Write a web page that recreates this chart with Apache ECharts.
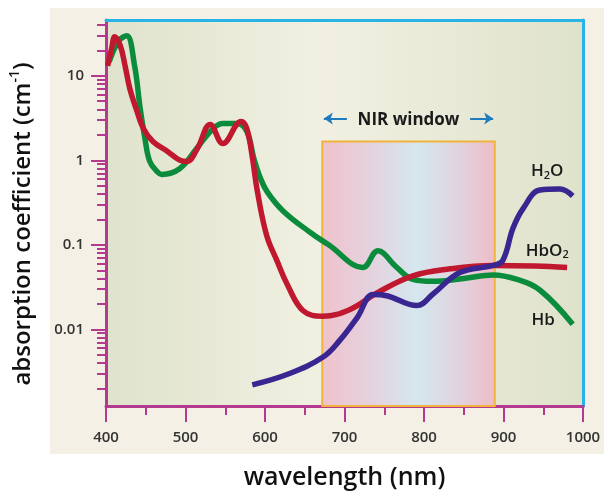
<!DOCTYPE html>
<html><head><meta charset="utf-8">
<script src="https://cdn.jsdelivr.net/npm/echarts@6/dist/echarts.min.js"></script>
<style>html,body{margin:0;padding:0;background:#fff}#c{width:604px;height:495px}</style>
</head><body><div id="c"></div>
<script>
// ---- data (wavelength nm, absorption coefficient cm^-1) ----
const hbX = [404, 416, 426, 436, 443, 449, 455, 464, 470, 493, 514, 535, 547, 565, 577, 586, 594, 603, 623, 657, 680, 723, 742, 765, 786, 811, 850, 887, 917, 946, 987];
const hbY = [14.6, 25.8, 29.6, 13, 4.1, 1.8, 0.97, 0.74, 0.68, 0.80, 1.38, 2.38, 2.72, 2.72, 2.2, 1.05, 0.62, 0.42, 0.25, 0.14, 0.1, 0.054, 0.085, 0.055, 0.039, 0.037, 0.040, 0.044, 0.039, 0.029, 0.0115];
const hbo2X = [402, 407, 411, 418, 424, 430, 439, 447, 459, 477, 493, 502, 515, 531, 547, 570, 577, 584, 590, 602, 615, 628, 648, 673, 707, 741, 786, 833, 887, 940, 980];
const hbo2Y = [13.1, 20.8, 28.8, 22.6, 13.1, 7.0, 3.8, 2.38, 1.67, 1.28, 1.0, 0.97, 1.38, 2.65, 1.58, 2.88, 2.38, 1.1, 0.45, 0.13, 0.065, 0.034, 0.0166, 0.0143, 0.0172, 0.027, 0.043, 0.052, 0.057, 0.056, 0.054];
const h2oX = [584, 631, 673, 694, 716, 736, 753, 791, 811, 845, 887, 899, 912, 925, 946, 971, 987];
const h2oY = [0.0022, 0.0030, 0.0047, 0.0074, 0.0138, 0.0258, 0.025, 0.0191, 0.026, 0.047, 0.057, 0.065, 0.158, 0.272, 0.444, 0.456, 0.377];
const xTickLabels = [400, 500, 600, 700, 800, 900, 1000];
const yTickLabels = [0.01, 0.1, 1, 10];
const nirWindow = [672, 889];
const nirTop = 1.67;
const yRange = [0.00124, 45.6];
const labelPos = { h2o: [955, 0.74], hbo2: [955, 0.085], hb: [950, 0.0128] };
const nirTextY = 3.12;

const pairs = (xs, ys) => xs.map((x, i) => [x, ys[i]]);
const minorY = [];
for (let e = -3; e <= 1; e++) for (let m = 2; m <= 9; m++) {
  const v = +(m * Math.pow(10, e)).toPrecision(3);
  if (v > yRange[0] && v < yRange[1]) minorY.push(v);
}
const MAG = '#b43a8f', CYAN = '#2ab4e6';
const FONT = '"Open Sans", "DejaVu Sans", sans-serif';

const chart = echarts.init(document.getElementById('c'), null, { renderer: 'canvas' });
const lbl = (txt) => ({
  show: true, position: 'inside', formatter: txt, color: '#1a1a1a',
  fontFamily: FONT, fontSize: 17, fontWeight: 600, lineHeight: 20,
  rich: { s: { fontSize: 11, fontWeight: 600, fontFamily: FONT, color: '#1a1a1a', lineHeight: 11, verticalAlign: 'bottom' } }
});
const mp = (pos, txt) => ({
  symbol: 'rect', symbolSize: 1, itemStyle: { color: 'rgba(0,0,0,0)' }, silent: true,
  data: [{ coord: pos, label: lbl(txt) }]
});

chart.setOption({
  animation: false,
  backgroundColor: '#ffffff',
  graphic: [{ type: 'rect', z: -10, shape: { x: 50, y: 8, width: 554, height: 446 }, style: { fill: '#f5f0e5' } }],
  grid: {
    left: 106, right: 21, top: 20, bottom: 87, show: true, borderWidth: 0,
    backgroundColor: { type: 'linear', x: 0, y: 0, x2: 1, y2: 0, colorStops: [
      { offset: 0, color: '#dfe3cc' }, { offset: 0.45, color: '#f1f0e2' }, { offset: 1, color: '#dfe2cb' }] }
  },
  xAxis: [{
    type: 'value', min: 400, max: 1000, interval: 100, position: 'bottom',
    axisLine: { show: true, lineStyle: { color: MAG, width: 3 } },
    axisTick: { show: true, length: 16, lineStyle: { color: MAG, width: 2 }, customValues: xTickLabels },
    minorTick: { show: true, splitNumber: 2, length: 9, lineStyle: { color: MAG, width: 2 } },
    splitLine: { show: false },
    axisLabel: { margin: 24, color: '#333', fontFamily: FONT, fontSize: 15, fontWeight: 600, customValues: xTickLabels,
      formatter: v => String(v) },
    name: 'wavelength (nm)', nameLocation: 'middle', nameGap: 59,
    nameTextStyle: { color: '#111', fontFamily: FONT, fontSize: 25, fontWeight: 600 }
  }, {
    type: 'value', min: 400, max: 1000, position: 'top',
    axisLine: { show: true, lineStyle: { color: CYAN, width: 3 } },
    axisTick: { show: false }, axisLabel: { show: false }, splitLine: { show: false }
  }],
  yAxis: [{
    type: 'log', min: yRange[0], max: yRange[1], position: 'left',
    axisLine: { show: true, lineStyle: { color: MAG, width: 3 } },
    axisTick: { show: true, length: 15, lineStyle: { color: MAG, width: 2 }, customValues: yTickLabels },
    splitLine: { show: false },
    axisLabel: { margin: 22, color: '#333', fontFamily: FONT, fontSize: 15, fontWeight: 600, customValues: yTickLabels,
      formatter: v => String(+(+v).toPrecision(3)) },
    name: 'absorption coefficient (cm{sup|-1})', nameLocation: 'middle', nameGap: 68, nameRotate: 90,
    nameTextStyle: { color: '#111', fontFamily: FONT, fontSize: 24, fontWeight: 600, lineHeight: 30, padding: [0, 22, 0, 0],
      rich: { sup: { fontSize: 14, fontFamily: FONT, fontWeight: 600, color: '#111', verticalAlign: 'top', lineHeight: 15 } } }
  }, {
    type: 'log', min: yRange[0], max: yRange[1], position: 'left',
    axisLine: { show: false },
    axisTick: { show: true, length: 9, lineStyle: { color: MAG, width: 2 }, customValues: minorY },
    axisLabel: { show: false }, splitLine: { show: false }
  }, {
    type: 'log', min: yRange[0], max: yRange[1], position: 'right',
    axisLine: { show: true, lineStyle: { color: CYAN, width: 3 } },
    axisTick: { show: false }, axisLabel: { show: false }, splitLine: { show: false }
  }],
  series: [{
    name: 'Hb', type: 'line', data: pairs(hbX, hbY), smooth: 0.4, showSymbol: false, z: 3,
    lineStyle: { color: '#0b8c3c', width: 5.5 }, itemStyle: { color: '#0b8c3c' },
    markArea: {
      silent: true,
      itemStyle: {
        color: { type: 'linear', x: 0, y: 0, x2: 1, y2: 0, colorStops: [
          { offset: 0, color: '#efc2cc' }, { offset: 0.3, color: '#e4d3df' }, { offset: 0.55, color: '#d5e7ef' },
          { offset: 0.8, color: '#e2d2dd' }, { offset: 1, color: '#eebcc6' }] },
        borderColor: '#f0b43c', borderWidth: 2
      },
      label: { show: true, position: 'top', distance: 12, formatter: 'NIR window', color: '#1a1a1a',
        fontFamily: FONT, fontSize: 17, fontWeight: 700 },
      data: [[{ xAxis: nirWindow[0], yAxis: nirTop }, { xAxis: nirWindow[1], yAxis: yRange[0] }]]
    },
    markLine: {
      silent: true, symbol: ['none', 'arrow'], symbolSize: 9,
      lineStyle: { color: '#1f7bbf', width: 2, type: 'solid' }, itemStyle: { color: '#1f7bbf' },
      label: { show: false },
      data: [
        [{ coord: [703, nirTextY] }, { coord: [nirWindow[0] + 2, nirTextY] }],
        [{ coord: [858, nirTextY] }, { coord: [nirWindow[1] - 2, nirTextY] }]
      ]
    },
    markPoint: mp(labelPos.hb, 'Hb')
  }, {
    name: 'HbO2', type: 'line', data: pairs(hbo2X, hbo2Y), smooth: 0.4, showSymbol: false, z: 4,
    lineStyle: { color: '#c0182e', width: 5.5 }, itemStyle: { color: '#c0182e' },
    markPoint: mp(labelPos.hbo2, 'HbO{s|2}')
  }, {
    name: 'H2O', type: 'line', data: pairs(h2oX, h2oY), smooth: 0.4, showSymbol: false, z: 5,
    lineStyle: { color: '#3a2690', width: 5.5 }, itemStyle: { color: '#3a2690' },
    markPoint: mp(labelPos.h2o, 'H{s|2}O')
  }]
});
</script></body></html>
